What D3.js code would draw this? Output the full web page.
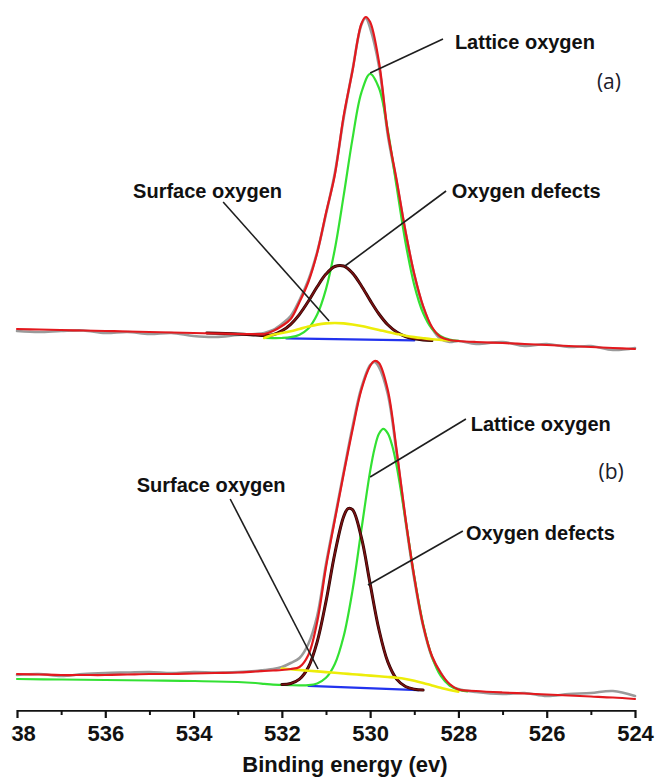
<!DOCTYPE html>
<html><head><meta charset="utf-8">
<script src="https://cdn.jsdelivr.net/npm/d3@7"></script>
<style>body{margin:0;background:#fff;} svg{display:block;}</style>
</head><body>
<svg id="chart" width="657" height="779"></svg>
<script>
// ---------- DATA (binding energy in eV, intensity in arbitrary units) ----------
// Panel (a)
const energyFullA = [538.0,537.5,537.0,536.5,536.0,535.5,535.0,534.5,534.0,533.5,533.0,532.6,532.4,532.2,532.0,531.8,531.6,531.4,531.2,531.0,530.8,530.6,530.4,530.2,530.1,530.0,529.8,529.6,529.4,529.2,529.0,528.8,528.6,528.4,528.2,528.0,527.6,527.0,526.5,526.0,525.5,525.0,524.5,524.0];
const envelopeA = [21,20.5,20,19.5,19,18.5,18,17.5,17,16.5,16,16,16,19,24,31,48,68,97,137,175,234,279,326,333,328,288,218,170,119,76,44,23,13,10,9,8,7,6,5,4,3,2,1];
const rawA = [19,18,19,19.5,17,18,16,17,14,13,15,16,17,20,26,34,50,70,98,136,177,232,280,325,332,322,284,215,168,118,75,43,22,11,8,9,6,8,4,6,3,4,0,2];
const latticeEnergyA = [532.4,532.2,532.0,531.8,531.6,531.4,531.2,531.0,530.8,530.6,530.4,530.2,530.0,529.8,529.6,529.4,529.2,529.0,528.8,528.6,528.4,528.2,528.0];
const latticeA = [12,11.9,12,12.8,15.3,21.5,35.4,60.9,100.8,154.3,211.1,257.2,276.2,262,219.6,163.3,107.8,64.9,36.9,21.2,13.7,10.4,9.2];
const defectsEnergyA = [533.7,533.0,532.6,532.4,532.2,532.0,531.8,531.6,531.4,531.2,531.0,530.8,530.6,530.4,530.2,530.0,529.8,529.6,529.4,529.2,529.0,528.8,528.6];
const defectsA = [17,16,15,14.5,15.3,19.1,25.7,35.7,48.7,63.2,75.9,83.5,84,76.9,64.3,49.6,36,25.2,18,13.5,11.2,10,9.4];
const surfaceEnergyA = [532.4,532.2,532.0,531.8,531.6,531.4,531.2,531.0,530.8,530.6,530.4,530.2,530.0,529.8,529.6,529.4,529.2,529.0,528.8,528.6,528.4,528.2];
const surfaceA = [12,15.2,16.9,18.8,21.1,23.4,25.4,26.6,27,26.6,25.5,24,22.1,20.1,18,16.1,14.3,12.9,11.8,10.8,10.1,9.5];
const backgroundEnergyA = [531.9,529.0];
const backgroundA = [11.6,9.6];

// Panel (b)
const energyFullB = [538.0,537.5,537.0,536.5,536.0,535.5,535.0,534.5,534.0,533.5,533.0,532.6,532.4,532.2,532.0,531.8,531.6,531.4,531.2,531.0,530.8,530.6,530.4,530.2,530.0,529.9,529.8,529.6,529.4,529.2,529.0,528.8,528.6,528.4,528.2,528.0,527.6,527.0,526.5,526.0,525.5,525.0,524.5,524.0];
const envelopeB = [36,35.5,35,35,35,35.5,36,36,36.5,37,37.5,38.5,39,39.5,40,41,43,55,88,143,190,236,280,320,344,349,347,320,260,192,133,85,54,37,26,20.5,19,17.5,16.5,15.5,14.5,13.5,12.5,11];
const rawB = [35,36,34,36,37,37.5,38,37,38,37.5,38,39,40,41,43,47,52,66,94,146,192,238,283,322,345,348,343,316,257,190,131,84,53,37,25,21,18,16,17,14,16,17,19,14];
const latticeEnergyB = [538.0,537.0,536.0,535.0,534.0,533.0,532.6,532.4,532.2,532.0,531.8,531.6,531.4,531.2,531.0,530.8,530.6,530.4,530.2,530.0,529.9,529.8,529.7,529.6,529.5,529.4,529.2,529.0,528.8,528.6,528.4,528.2,528.0,527.8];
const latticeB = [31,30.5,30,29.5,29,28,27,26.2,25.4,25.1,24.8,24.6,24.8,26.6,32.2,46,73.7,119.4,179.8,238.9,261.6,276.3,281.2,276.7,264.3,244.3,190.6,133.5,85.9,53.2,34.1,24.5,20.4,18.6];
const defectsEnergyB = [532.0,531.8,531.6,531.4,531.2,531.0,530.8,530.6,530.5,530.4,530.2,530.0,529.8,529.6,529.4,529.2,529.0,528.8];
const defectsB = [25.5,26.5,30.8,42.7,68.1,108.6,156.5,193.4,201.4,200.3,172.8,126.1,80.3,48.1,30.9,23.5,20.8,19.9];
const surfaceEnergyB = [532.0,531.8,531.6,531.4,531.2,531.0,530.8,530.6,530.4,530.2,530.0,529.8,529.6,529.4,529.2,529.0,528.8,528.6,528.4,528.2,528.0];
const surfaceB = [41.5,40.7,40,39.3,38.6,37.9,37.2,36.5,35.8,35.1,34.4,33.7,33,32.2,31,29.2,27,24.6,22.2,20,18.4];
const backgroundEnergyB = [531.4,528.9];
const backgroundB = [24.2,19.8];

// Axis ticks
const majorTicks = [538,536,534,532,530,528,526,524];
const tickLabels = ["538","536","534","532","530","528","526","524"];
const minorTicks = [537,535,533,531,529,527,525];
const axisTitle = "Binding energy (ev)";

// Annotation anchors (data coordinates)
const annotationsA = [
  {label:"Lattice oxygen", tx:528.08, ty:308, x1:528.35, y1:311, x2:530.0, y2:277},
  {label:"Surface oxygen", tx:535.37, ty:159, x1:533.33, y1:148, x2:530.93, y2:29},
  {label:"Oxygen defects", tx:528.15, ty:159, x1:528.28, y1:159, x2:530.57, y2:84}
];
const annotationsB = [
  {label:"Lattice oxygen", tx:527.72, ty:286, x1:527.83, y1:291, x2:530.0, y2:233},
  {label:"Surface oxygen", tx:535.29, ty:225, x1:533.17, y1:211, x2:531.18, y2:41},
  {label:"Oxygen defects", tx:527.83, ty:177, x1:527.90, y1:179, x2:530.05, y2:125}
];
const panelLabels = [{text:"(a)", e:524.59, i:268, panel:"A"},{text:"(b)", e:524.54, i:238, panel:"B"}];

// ---------- DRAW ----------
const svg = d3.select('#chart');
const x = d3.scaleLinear().domain([538,524]).range([17,635]);
const yA = d3.scaleLinear().domain([0,350]).range([350,0]);
const yB = d3.scaleLinear().domain([0,350]).range([710,360]);

const COLORS = {raw:'#9a9a9a', bg:'#2233ee', lattice:'#33e133', defects:'#7a1212', surface:'#eded0a', envelope:'#e3191e'};

function series(g, y, E, I, color, width){
  const pts = E.map((e,k)=>[e, I[k]]);
  g.append('path').datum(pts)
    .attr('d', d3.line().x(d=>x(d[0])).y(d=>y(d[1])).curve(d3.curveCatmullRom.alpha(0.5)))
    .attr('fill','none').attr('stroke',color).attr('stroke-width',width)
    .attr('stroke-linejoin','round').attr('stroke-linecap','round');
}

function panel(y, d){
  const g = svg.append('g');
  series(g, y, d.fullE, d.raw, COLORS.raw, 2.6);
  series(g, y, d.bgE, d.bg, COLORS.bg, 2.2);
  series(g, y, d.latE, d.lat, COLORS.lattice, 2.2);
  series(g, y, d.defE, d.def, '#2a0000', 3.0);
  series(g, y, d.defE, d.def, COLORS.defects, 1.6);
  series(g, y, d.surE, d.sur, COLORS.surface, 2.6);
  series(g, y, d.fullE, d.env, COLORS.envelope, 2.2);
  d.ann.forEach(a=>{
    g.append('line').attr('x1',x(a.x1)).attr('y1',y(a.y1)).attr('x2',x(a.x2)).attr('y2',y(a.y2))
      .attr('stroke','#1e1e1e').attr('stroke-width',1.6);
    g.append('text').attr('x',x(a.tx)).attr('y',y(a.ty)).attr('dy','0.35em')
      .attr('font-family','"Liberation Sans", Arial, sans-serif').attr('font-weight','bold')
      .attr('font-size',20).attr('fill','#111').text(a.label);
  });
}

panel(yA, {fullE:energyFullA, raw:rawA, env:envelopeA, latE:latticeEnergyA, lat:latticeA,
  defE:defectsEnergyA, def:defectsA, surE:surfaceEnergyA, sur:surfaceA, bgE:backgroundEnergyA, bg:backgroundA, ann:annotationsA});
panel(yB, {fullE:energyFullB, raw:rawB, env:envelopeB, latE:latticeEnergyB, lat:latticeB,
  defE:defectsEnergyB, def:defectsB, surE:surfaceEnergyB, sur:surfaceB, bgE:backgroundEnergyB, bg:backgroundB, ann:annotationsB});

panelLabels.forEach(p=>{
  const y = p.panel==='A'? yA : yB;
  svg.append('text').attr('x',x(p.e)).attr('y',y(p.i)).attr('dy','0.35em')
    .attr('text-anchor','middle').attr('font-family','"Open Sans", "Liberation Sans", sans-serif')
    .attr('font-size',21).attr('fill','#1c1c2c').text(p.text);
});

// Axis
svg.append('defs').append('clipPath').attr('id','axClip')
  .append('rect').attr('x',11).attr('y',0).attr('width',660).attr('height',779);
const axG = svg.append('g').attr('transform','translate(0,710)').attr('clip-path','url(#axClip)');
axG.call(d3.axisBottom(x).tickValues(majorTicks).tickFormat((d,i)=>tickLabels[i])
  .tickSizeInner(8).tickSizeOuter(0).tickPadding(7));
axG.select('.domain').attr('stroke','#111').attr('stroke-width',2.6);
axG.selectAll('.tick line').attr('stroke','#111').attr('stroke-width',2.2);
axG.selectAll('.tick text').attr('font-family','"Liberation Sans", Arial, sans-serif')
  .attr('font-weight','bold').attr('font-size',22).attr('fill','#111');
const mnG = svg.append('g').attr('transform','translate(0,710)');
mnG.call(d3.axisBottom(x).tickValues(minorTicks).tickFormat('').tickSizeInner(5).tickSizeOuter(0));
mnG.select('.domain').remove();
mnG.selectAll('.tick line').attr('stroke','#111').attr('stroke-width',2);

svg.append('text').attr('x',345).attr('y',772).attr('text-anchor','middle')
  .attr('font-family','"Liberation Sans", Arial, sans-serif').attr('font-weight','bold')
  .attr('font-size',22).attr('fill','#111').text(axisTitle);
</script>
</body></html>
